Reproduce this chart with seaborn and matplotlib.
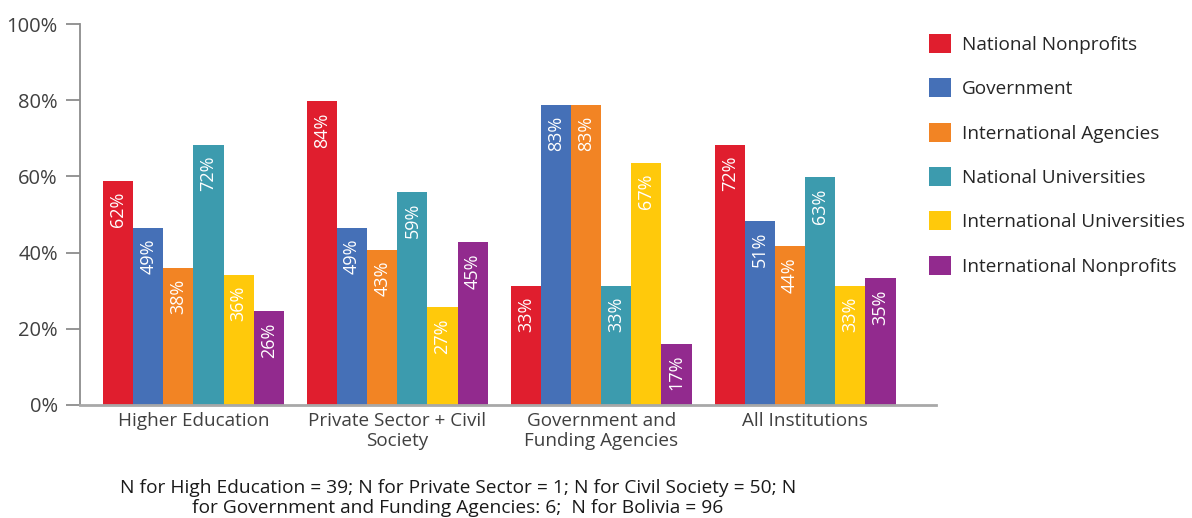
import numpy as np
import pandas as pd
import matplotlib
matplotlib.use("Agg")
import matplotlib.pyplot as plt
import seaborn as sns
from matplotlib.patches import Patch

groups = ["Higher Education", "Private Sector + Civil\nSociety",
          "Government and\nFunding Agencies", "All Institutions"]
partners = ["National Nonprofits", "Government", "International Agencies",
            "National Universities", "International Universities",
            "International Nonprofits"]
national_nonprofits = [62, 84, 33, 72]
government = [49, 49, 83, 51]
international_agencies = [38, 43, 83, 44]
national_universities = [72, 59, 33, 63]
international_universities = [36, 27, 67, 33]
international_nonprofits = [26, 45, 17, 35]
tick_labels = ["0%", "20%", "40%", "60%", "80%", "100%"]
footnote = ("N for High Education = 39; N for Private Sector = 1; N for Civil Society = 50; N\n"
            "for Government and Funding Agencies: 6;  N for Bolivia = 96")

colors = ["#E01E2E", "#4570B7", "#F28424", "#3C9BAE", "#FFC90B", "#922A8E"]

series = [national_nonprofits, government, international_agencies,
          national_universities, international_universities, international_nonprofits]
df = pd.DataFrame({
    "group": np.tile(groups, len(partners)),
    "partner": np.repeat(partners, len(groups)),
    "value": np.concatenate(series),
})

sns.set_theme(style="white")
plt.rcParams["font.family"] = ["Open Sans", "DejaVu Sans"]

fig = plt.figure(figsize=(11.92, 5.18), dpi=100)
ax = fig.add_axes([80 / 1192, 1 - 405 / 518, (936 - 80) / 1192, (405 - 24) / 518])

sns.barplot(data=df, x="group", y="value", hue="partner", order=groups,
            hue_order=partners, palette=colors, width=0.887, saturation=1,
            linewidth=0, legend=False, ax=ax)

# value labels, rotated, just inside the top of each bar
for cont in ax.containers:
    for bar in cont:
        h = bar.get_height()
        ax.annotate(f"{h:.0f}%", (bar.get_x() + bar.get_width() / 2, h),
                    xytext=(0, -8), textcoords="offset points",
                    rotation=90, ha="center", va="top", color="white", fontsize=13)

# percentage scale of the axis
scale = 1.054
ax.set_xlim(-0.556, 3.642)
ax.set_ylim(0, 100 * scale)
ax.set_yticks(np.arange(0, 101, 20) * scale)
ax.set_yticklabels(tick_labels)
ax.set_xlabel("")
ax.set_ylabel("")

for s in ["top", "right"]:
    ax.spines[s].set_visible(False)
ax.spines["left"].set_color("#8c8c8c")
ax.spines["left"].set_linewidth(1.3)
ax.spines["bottom"].set_color("#a8a8a8")
ax.spines["bottom"].set_linewidth(2)
ax.tick_params(axis="y", direction="out", length=10, width=1.3, color="#8c8c8c",
               labelsize=14.5, labelcolor="#404040", pad=6, left=True)
ax.tick_params(axis="x", length=0, labelsize=13.6, labelcolor="#404040", pad=5)
for lab in ax.get_xticklabels():
    lab.set_linespacing(1.15)

handles = [Patch(facecolor=c, edgecolor="none") for c in colors]
fig.legend(handles, partners, loc="upper left", bbox_to_anchor=(912 / 1192, 1 - 17 / 518),
           frameon=False, fontsize=13.7, handlelength=1.16, handleheight=1.16,
           handletextpad=0.58, labelspacing=1.28, labelcolor="#262626")

fig.text(458 / 1192, 1 - 498 / 518, footnote, ha="center", va="center",
         fontsize=13.8, color="#1a1a1a", linespacing=1.2)

fig.savefig("out.png", dpi=100)
